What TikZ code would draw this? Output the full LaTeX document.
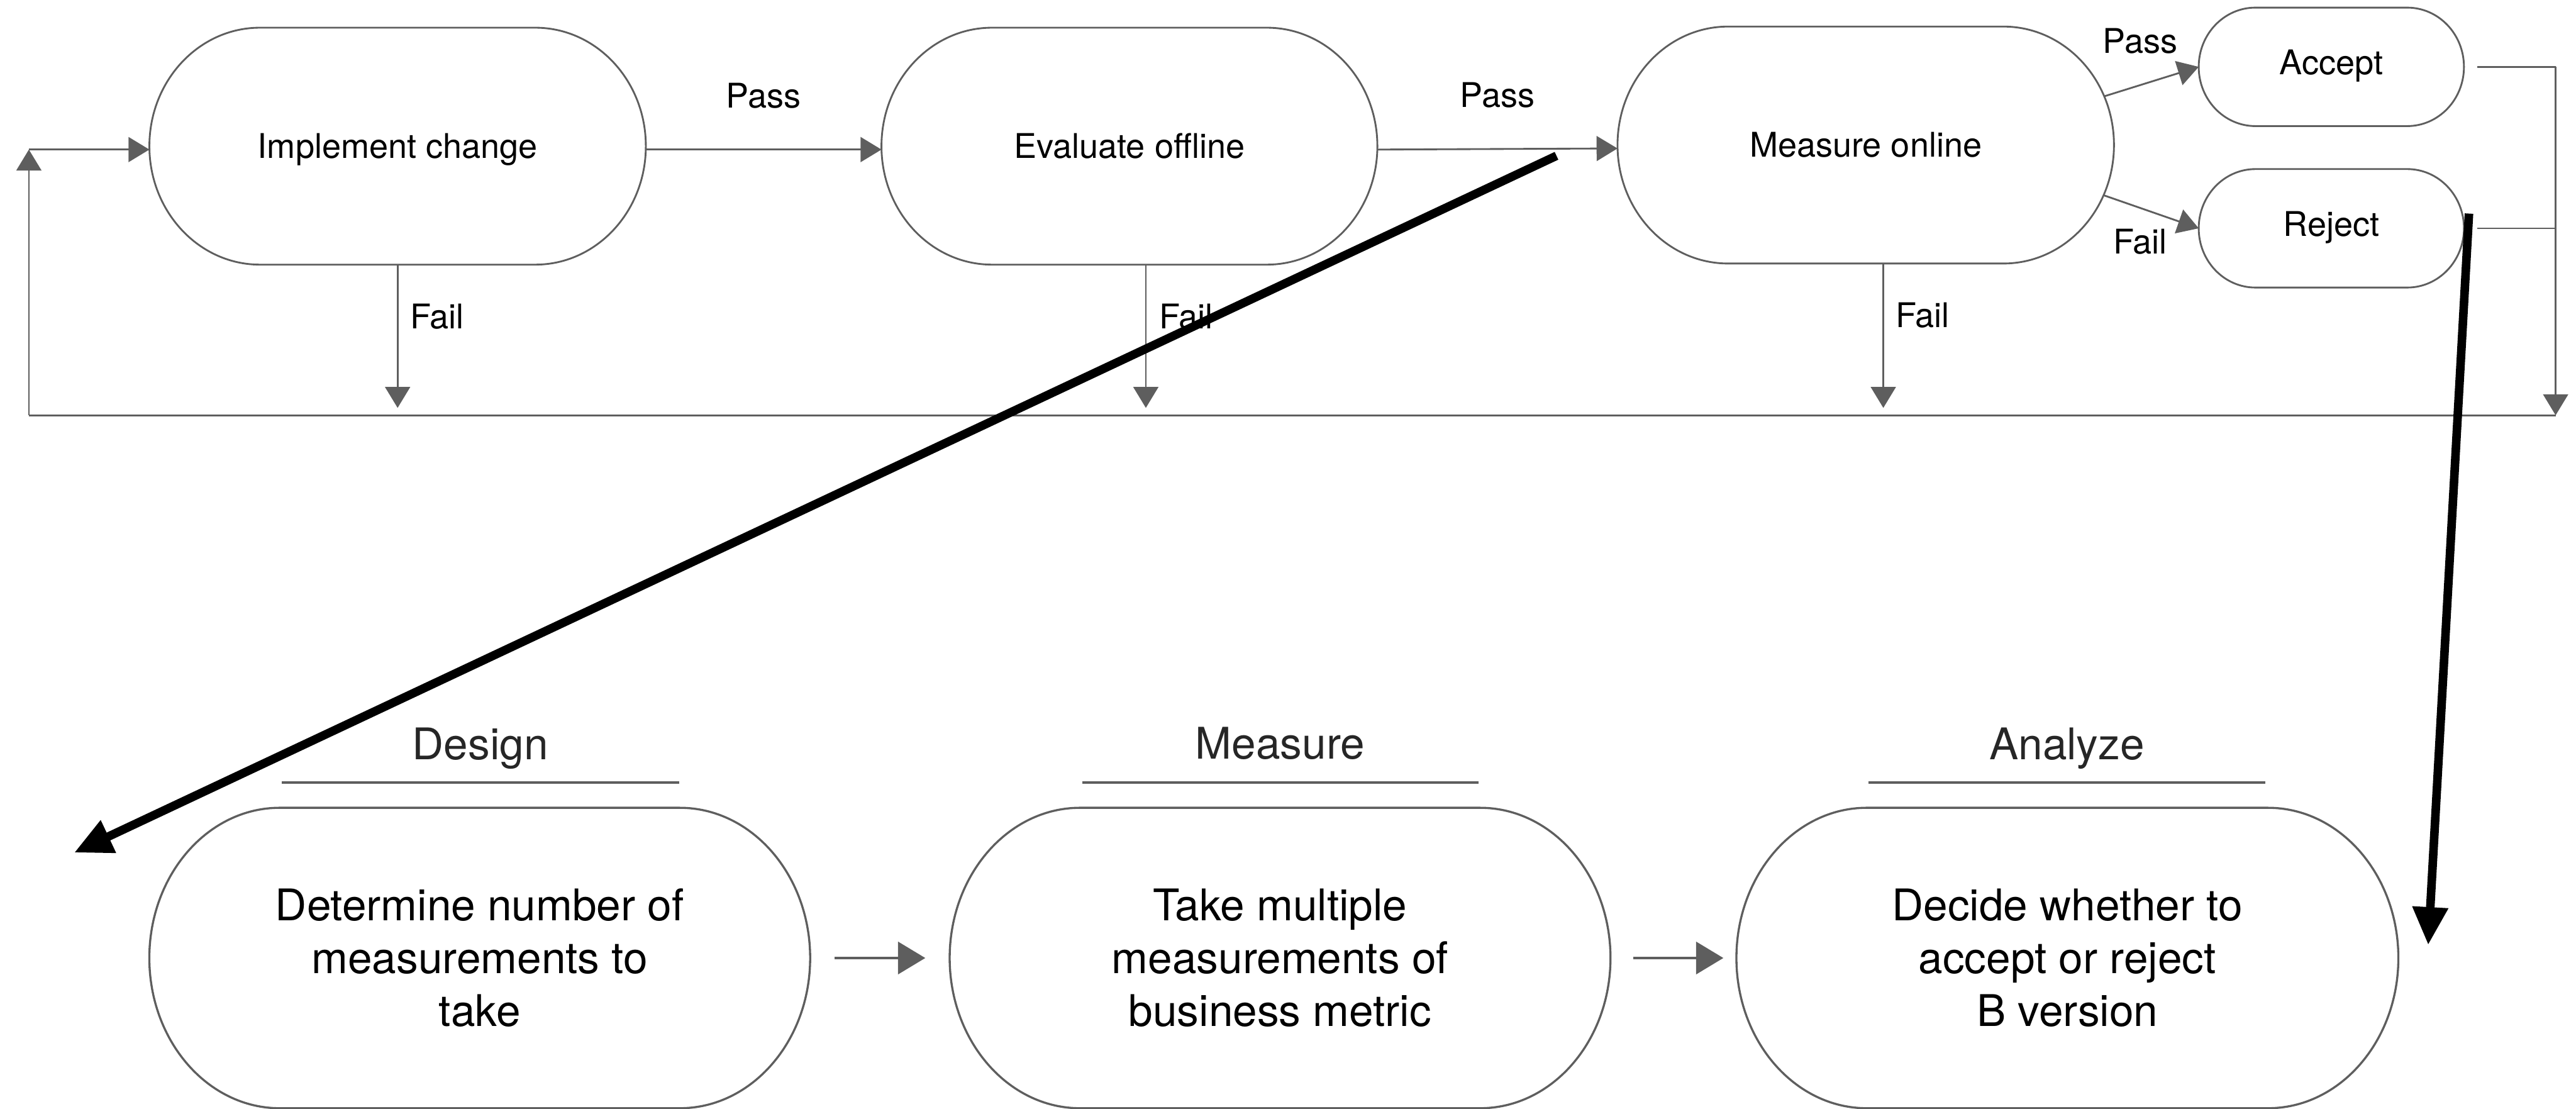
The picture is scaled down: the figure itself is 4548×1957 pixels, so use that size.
\documentclass[tikz,border=0pt]{standalone}
\usepackage{fontspec}
\setmainfont{TeX Gyre Heros}
\usetikzlibrary{arrows.meta,calc}
\definecolor{lg}{HTML}{5E5E5E}
\newcommand{\capsulebox}[4][boxline]{\draw[#1] ([xshift=#3]#2.north west) -- ([xshift=-#3]#2.north east) arc[start angle=90,end angle=-90,x radius=#3,y radius=#4] -- ([xshift=#3]#2.south west) arc[start angle=270,end angle=90,x radius=#3,y radius=#4] -- cycle;}
\tikzset{
  topbox/.style={inner sep=0pt, outer sep=0pt, font=\fontsize{17.07pt}{20pt}\selectfont, text height=0.43cm, text depth=0pt},
  smallbox/.style={topbox, minimum width=4.68cm, minimum height=2.09cm, text depth=0.16cm},
  botbox/.style={inner sep=0pt, outer sep=0pt, align=center, font=\fontsize{21.9pt}{26.5pt}\selectfont, minimum width=11.66cm, minimum height=5.3cm},
  hdr/.style={inner sep=0pt, outer sep=0pt, font=\fontsize{21.9pt}{26pt}\selectfont, text height=0.55cm, text depth=0pt, text=black!85},
  lbl/.style={inner sep=0pt, outer sep=0pt, font=\fontsize{17.07pt}{20pt}\selectfont, text height=0.43cm, text depth=0pt, text=black},
  boxline/.style={draw=lg, line width=0.9pt},
  bigboxline/.style={draw=lg, line width=1.05pt},
  gline/.style={draw=lg, line width=0.9pt},
  garrow/.style={gline, -{Triangle[length=10.5pt,width=12.5pt]}},
  bgarrow/.style={draw=lg, line width=1.2pt, -{Triangle[length=13.7pt,width=16.2pt]}},
  hline/.style={draw=lg, line width=1.1pt},
  barrow/.style={draw=black, line width=4.3pt, -{Triangle[length=19pt,width=17pt]}}
}
\begin{document}
\begin{tikzpicture}[x=0.01cm, y=0.01cm]
\useasboundingbox (0,0) rectangle (4548,-1957);
% top row
\node[topbox, minimum width=8.76cm, minimum height=4.18cm] (ic) at (702,-258) {Implement change};
\node[topbox, minimum width=8.75cm, minimum height=4.18cm] (eo) at (1994,-258) {Evaluate offline};
\node[topbox, minimum width=8.76cm, minimum height=4.18cm] (mo) at (3294,-256) {Measure online};
\node[smallbox] (acc) at (4116,-118) {Accept};
\node[smallbox] (rej) at (4116,-403) {Reject};
\capsulebox{ic}{1.95cm}{2.09cm}
\capsulebox{eo}{1.95cm}{2.09cm}
\capsulebox{mo}{1.95cm}{2.09cm}
\capsulebox{acc}{1.0cm}{1.045cm}
\capsulebox{rej}{1.0cm}{1.045cm}
% coordinates
\coordinate (fy) at (0,-720);
\coordinate (lb) at (51,-733);
\coordinate (lt) at (51,-264);
\coordinate (rb) at (4512,-733);
% pass arrows
\draw[garrow] ([yshift=-0.06cm]ic.east) -- ([yshift=-0.06cm]eo.west) node[lbl, midway, yshift=0.95cm] {Pass};
\draw[garrow] ([yshift=-0.06cm]eo.east) -- ([yshift=-0.06cm]mo.west) node[lbl, midway, yshift=0.95cm] {Pass};
\draw[garrow] ([shift={(4.21cm,0.86cm)}]mo.center) -- (acc.west) node[lbl, midway, xshift=-0.2cm, yshift=0.72cm] {Pass};
\draw[garrow] ([shift={(4.21cm,-0.89cm)}]mo.center) -- (rej.west) node[lbl, midway, xshift=-0.2cm, yshift=-0.53cm] {Fail};
% fail arrows
\draw[garrow] (ic.south) -- (ic.south |- fy) node[lbl, pos=0.36, anchor=west, xshift=0.22cm] {Fail};
\draw[garrow] ([xshift=0.29cm]eo.south) -- ([xshift=0.29cm]eo.south |- fy) node[lbl, pos=0.36, anchor=west, xshift=0.24cm] {Fail};
\draw[garrow] ([xshift=0.31cm]mo.south) -- ([xshift=0.31cm]mo.south |- fy) node[lbl, pos=0.36, anchor=west, xshift=0.22cm] {Fail};
% right side and loop back
\draw[gline] ([xshift=0.24cm]acc.east) -- (acc.east -| rb);
\draw[gline] ([xshift=0.23cm]rej.east) -- (rej.east -| rb);
\draw[garrow] (acc.east -| rb) -- (rb);
\draw[gline] (rb) -- (lb);
\draw[garrow] (lb) -- (lt);
\draw[garrow] (lt) -- (lt -| ic.west);
% bottom row
\node[hdr] (hdes) at (848,-1313) {Design};
\node[hdr] (hmea) at (2260,-1312) {Measure};
\node[hdr] (hana) at (3649,-1313) {Analyze};
\draw[hline] ([shift={(-3.5cm,-0.68cm)}]hdes.center) -- ([shift={(3.51cm,-0.68cm)}]hdes.center);
\draw[hline] ([shift={(-3.49cm,-0.69cm)}]hmea.center) -- ([shift={(3.5cm,-0.69cm)}]hmea.center);
\draw[hline] ([shift={(-3.5cm,-0.68cm)}]hana.center) -- ([shift={(3.5cm,-0.68cm)}]hana.center);
\node[botbox] (dsg) at (847,-1691) {Determine number of\\measurements to\\take};
\node[botbox] (msr) at (2260,-1691) {Take multiple\\measurements of\\business metric};
\node[botbox, minimum width=11.68cm] (ana) at (3650,-1691) {Decide whether to\\accept or reject\\B version};
\capsulebox[bigboxline]{dsg}{2.3cm}{2.65cm}
\capsulebox[bigboxline]{msr}{2.3cm}{2.65cm}
\capsulebox[bigboxline]{ana}{2.3cm}{2.65cm}
\draw[bgarrow, shorten <=0.43cm, shorten >=0.43cm] (dsg) -- (msr);
\draw[bgarrow, shorten <=0.40cm, shorten >=0.23cm] (msr) -- (ana);
% black zoom arrows
\coordinate (b1s) at (2748,-275);
\coordinate (b1e) at (131,-1505);
\coordinate (b2s) at (4359,-377);
\coordinate (b2e) at (4287,-1668);
\draw[barrow] (b1s) -- (b1e);
\draw[barrow] (b2s) -- (b2e);
\end{tikzpicture}
\end{document}
